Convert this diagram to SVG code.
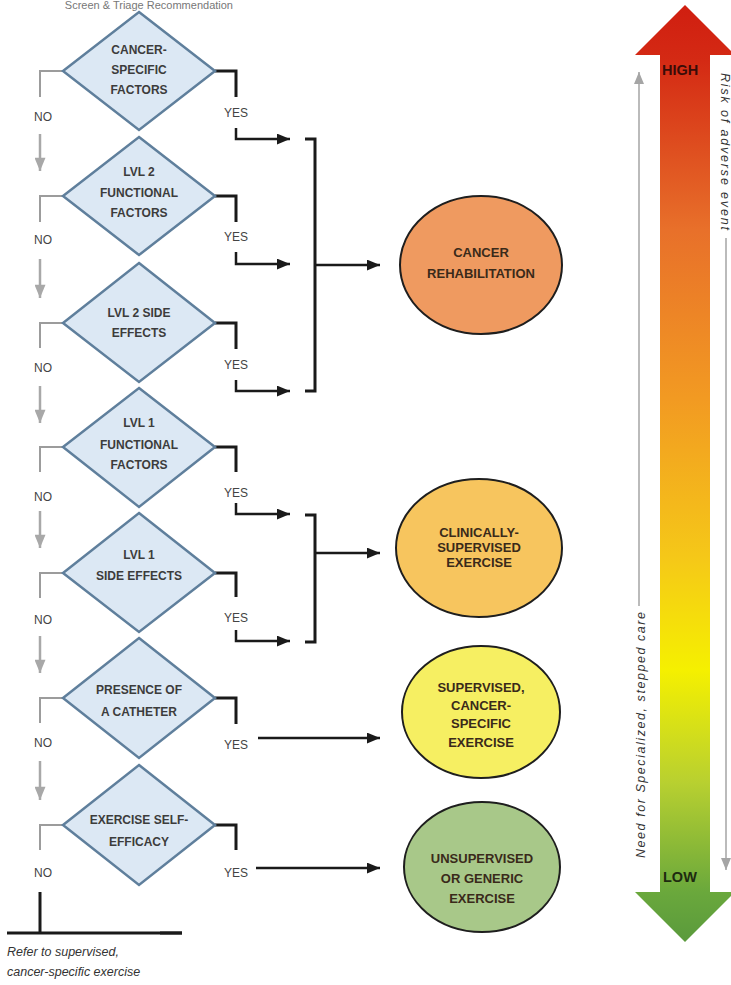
<svg xmlns="http://www.w3.org/2000/svg" width="731" height="985" viewBox="0 0 731 985">
<style>
.dia{fill:#dce8f4;stroke:#5f7f9c;stroke-width:2.5}
.dt{font-family:"Liberation Sans",Arial,sans-serif;font-size:12px;font-weight:bold;fill:#3c3c3c;text-anchor:middle}
.lbl{font-family:"Liberation Sans",Arial,sans-serif;font-size:12px;fill:#444;text-anchor:middle}
.ct{font-family:"Liberation Sans",Arial,sans-serif;font-size:13px;font-weight:bold;fill:#3a2a1a;text-anchor:middle}
.circ{stroke:#1e1e1e;stroke-width:2}
.no{fill:none;stroke:#9c9c9c;stroke-width:2}
.noa{fill:none;stroke:#a8a8a8;stroke-width:2.5}
.yes{fill:none;stroke:#1a1a1a;stroke-width:3}
.yesa{fill:none;stroke:#1a1a1a;stroke-width:2.5}
.it{font-family:"Liberation Sans",Arial,sans-serif;font-style:italic;fill:#333}
.gl{fill:none;stroke:#a5a5a5;stroke-width:1.5}
</style>
<defs>
<marker id="ab" viewBox="0 0 12 10" refX="12" refY="5" markerWidth="13" markerHeight="11" markerUnits="userSpaceOnUse" orient="auto"><path d="M0,0 L12,5 L0,10 z" fill="#1a1a1a"/></marker>
<marker id="ag" viewBox="0 0 12 10" refX="12" refY="5" markerWidth="14" markerHeight="11" markerUnits="userSpaceOnUse" orient="auto"><path d="M0,0 L12,5 L0,10 z" fill="#a8a8a8"/></marker>
<marker id="at" viewBox="0 0 12 10" refX="12" refY="5" markerWidth="13" markerHeight="10" markerUnits="userSpaceOnUse" orient="auto"><path d="M0,0 L12,5 L0,10 z" fill="#a5a5a5"/></marker>
<linearGradient id="grad" gradientUnits="userSpaceOnUse" x1="0" y1="5" x2="0" y2="942">
<stop offset="0" stop-color="#d01e10"/>
<stop offset="0.06" stop-color="#d42a14"/>
<stop offset="0.24" stop-color="#e8702a"/>
<stop offset="0.42" stop-color="#f29a22"/>
<stop offset="0.59" stop-color="#f5c818"/>
<stop offset="0.71" stop-color="#f5f000"/>
<stop offset="0.83" stop-color="#b8d030"/>
<stop offset="0.947" stop-color="#6aa83c"/>
<stop offset="1" stop-color="#5a9a3c"/>
</linearGradient>
</defs>
<rect width="731" height="985" fill="#ffffff"/>
<text x="233" y="9" font-family="Liberation Sans, Arial, sans-serif" font-size="11" fill="#777" text-anchor="end">Screen &amp; Triage Recommendation</text>

<g id="connectors">
<path class="no" d="M63,71 H40 V97"/>
<path class="noa" d="M40,134 V171" marker-end="url(#ag)"/>
<path class="no" d="M63,196 H40 V222"/>
<path class="noa" d="M40,259 V298" marker-end="url(#ag)"/>
<path class="no" d="M63,323 H40 V348"/>
<path class="noa" d="M40,386 V423" marker-end="url(#ag)"/>
<path class="no" d="M63,447 H40 V472"/>
<path class="noa" d="M40,511 V548" marker-end="url(#ag)"/>
<path class="no" d="M63,573 H40 V598"/>
<path class="noa" d="M40,636 V673" marker-end="url(#ag)"/>
<path class="no" d="M63,698 H40 V723"/>
<path class="noa" d="M40,761 V800" marker-end="url(#ag)"/>
<path class="no" d="M63,825 H40 V850"/>
<path class="yes" d="M40,892 V933"/>
<path class="yes" d="M7,933 H182"/>
<path class="yes" d="M160,933 H182" stroke-width="4"/>

<path class="yes" d="M215,71 H236 V97"/>
<path class="yesa" d="M236,128 V139 H290" marker-end="url(#ab)"/>
<path class="yes" d="M215,196 H236 V222"/>
<path class="yesa" d="M236,252 V264 H290" marker-end="url(#ab)"/>
<path class="yes" d="M215,323 H236 V349"/>
<path class="yesa" d="M236,380 V391 H290" marker-end="url(#ab)"/>
<path class="yes" d="M305,139 H315 V391 H305"/>
<path class="yesa" d="M315,265 H380" stroke-width="2" marker-end="url(#ab)"/>

<path class="yes" d="M215,447 H236 V472"/>
<path class="yesa" d="M236,503 V514 H290" marker-end="url(#ab)"/>
<path class="yes" d="M215,573 H236 V597"/>
<path class="yesa" d="M236,630 V641 H290" marker-end="url(#ab)"/>
<path class="yes" d="M305,515 H315 V642 H305"/>
<path class="yesa" d="M315,553 H380" stroke-width="2" marker-end="url(#ab)"/>

<path class="yes" d="M215,698 H236 V724"/>
<path class="yesa" d="M258,738 H380" marker-end="url(#ab)"/>
<path class="yes" d="M215,825 H236 V850"/>
<path class="yesa" d="M256,868 H380" marker-end="url(#ab)"/>
</g>

<g id="labels">
<text class="lbl" x="43" y="121">NO</text>
<text class="lbl" x="43" y="244">NO</text>
<text class="lbl" x="43" y="372">NO</text>
<text class="lbl" x="43" y="501">NO</text>
<text class="lbl" x="43" y="624">NO</text>
<text class="lbl" x="43" y="747">NO</text>
<text class="lbl" x="43" y="877">NO</text>
<text class="lbl" x="236" y="117">YES</text>
<text class="lbl" x="236" y="241">YES</text>
<text class="lbl" x="236" y="369">YES</text>
<text class="lbl" x="236" y="497">YES</text>
<text class="lbl" x="236" y="622">YES</text>
<text class="lbl" x="236" y="749">YES</text>
<text class="lbl" x="236" y="877">YES</text>
<text class="it" x="7" y="956" font-size="12.5">Refer to supervised,</text>
<text class="it" x="7" y="976" font-size="12.5">cancer-specific exercise</text>
</g>

<g id="d1"><polygon class="dia" points="139,12 215,71 139,130 63,71"/>
<text class="dt" x="139" y="54">CANCER-</text><text class="dt" x="139" y="74">SPECIFIC</text><text class="dt" x="139" y="94">FACTORS</text></g>
<g id="d2"><polygon class="dia" points="139,137 215,196 139,255 63,196"/>
<text class="dt" x="139" y="176">LVL 2</text><text class="dt" x="139" y="197">FUNCTIONAL</text><text class="dt" x="139" y="217">FACTORS</text></g>
<g id="d3"><polygon class="dia" points="139,263 215,323 139,382 63,323"/>
<text class="dt" x="139" y="317">LVL 2 SIDE</text><text class="dt" x="139" y="337">EFFECTS</text></g>
<g id="d4"><polygon class="dia" points="139,388 215,447 139,507 63,447"/>
<text class="dt" x="139" y="427">LVL 1</text><text class="dt" x="139" y="449">FUNCTIONAL</text><text class="dt" x="139" y="469">FACTORS</text></g>
<g id="d5"><polygon class="dia" points="139,513 215,573 139,632 63,573"/>
<text class="dt" x="139" y="559">LVL 1</text><text class="dt" x="139" y="580">SIDE EFFECTS</text></g>
<g id="d6"><polygon class="dia" points="139,638 215,698 139,758 63,698"/>
<text class="dt" x="139" y="694">PRESENCE OF</text><text class="dt" x="139" y="716">A CATHETER</text></g>
<g id="d7"><polygon class="dia" points="139,765 215,825 139,885 63,825"/>
<text class="dt" x="139" y="824">EXERCISE SELF-</text><text class="dt" x="139" y="846">EFFICACY</text></g>

<g id="c1"><ellipse class="circ" cx="481" cy="265" rx="81" ry="69" fill="#ef9a60"/>
<text class="ct" x="481" y="257">CANCER</text><text class="ct" x="481" y="278">REHABILITATION</text></g>
<g id="c2"><ellipse class="circ" cx="479" cy="548" rx="83" ry="69" fill="#f7c55e"/>
<text class="ct" x="479" y="537">CLINICALLY-</text><text class="ct" x="479" y="552">SUPERVISED</text><text class="ct" x="479" y="567">EXERCISE</text></g>
<g id="c3"><ellipse class="circ" cx="481" cy="712" rx="79" ry="66" fill="#f6ef62"/>
<text class="ct" x="481" y="692">SUPERVISED,</text><text class="ct" x="481" y="710">CANCER-</text><text class="ct" x="481" y="728">SPECIFIC</text><text class="ct" x="481" y="747">EXERCISE</text></g>
<g id="c4"><ellipse class="circ" cx="482" cy="867" rx="78" ry="65" fill="#a8c889"/>
<text class="ct" x="482" y="863">UNSUPERVISED</text><text class="ct" x="482" y="883">OR GENERIC</text><text class="ct" x="482" y="903">EXERCISE</text></g>

<g id="scale">
<path d="M685,5 L735,55 L710,55 L710,892 L735,892 L685,942 L635,892 L660,892 L660,55 L635,55 Z" fill="url(#grad)"/>
<text x="662" y="75" font-family="Liberation Sans, Arial, sans-serif" font-size="14.5" font-weight="bold" fill="#3a0c08">HIGH</text>
<text x="663" y="882" font-family="Liberation Sans, Arial, sans-serif" font-size="14.5" font-weight="bold" fill="#1e2a10">LOW</text>
<path class="gl" d="M639,606 V72" marker-end="url(#at)"/>
<text class="it" font-size="12.5" transform="translate(645,858) rotate(-90)" textLength="246" lengthAdjust="spacing">Need for Specialized, stepped care</text>
<path class="gl" d="M726,238 V870" marker-end="url(#at)"/>
<text class="it" font-size="12.5" transform="translate(721,73) rotate(90)" textLength="157" lengthAdjust="spacing">Risk of adverse event</text>
</g>
</svg>
